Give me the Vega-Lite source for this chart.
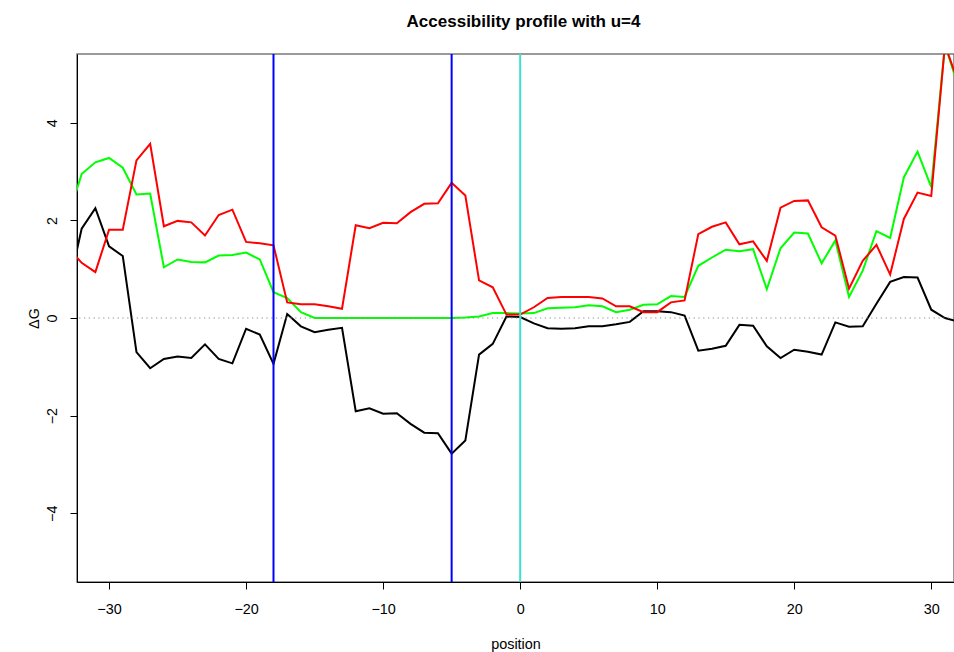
{
  "$schema": "https://vega.github.io/schema/vega-lite/v6.json",
  "width": 877,
  "height": 528,
  "autosize": "none",
  "padding": {"left": 77, "top": 54, "right": 0, "bottom": 70},
  "background": "white",
  "title": {
    "text": "Accessibility profile with u=4",
    "font": "Liberation Sans",
    "fontSize": 17,
    "fontWeight": "bold",
    "color": "black",
    "anchor": "middle",
    "frame": "group",
    "baseline": "alphabetic",
    "offset": 9,
    "dx": 8
  },
  "config": {
    "view": {"stroke": "#7a7a7a", "strokeWidth": 1.5},
    "axis": {
      "grid": false,
      "domainColor": "black",
      "domainWidth": 1,
      "tickColor": "black",
      "tickWidth": 1,
      "tickSize": 7,
      "labelFont": "Liberation Sans",
      "labelFontSize": 14.4,
      "labelColor": "black",
      "titleFont": "Liberation Sans",
      "titleFontSize": 14.4,
      "titleFontWeight": "normal",
      "titleColor": "black"
    }
  },
  "datasets": {
    "profile": [
      {"pos": -33, "series": "black", "dG": 0.57}, {"pos": -33, "series": "red", "dG": 1.45}, {"pos": -33, "series": "green", "dG": 2.05},
      {"pos": -32, "series": "black", "dG": 1.83}, {"pos": -32, "series": "red", "dG": 1.13}, {"pos": -32, "series": "green", "dG": 2.95},
      {"pos": -31, "series": "black", "dG": 2.25}, {"pos": -31, "series": "red", "dG": 0.94}, {"pos": -31, "series": "green", "dG": 3.19},
      {"pos": -30, "series": "black", "dG": 1.47}, {"pos": -30, "series": "red", "dG": 1.81}, {"pos": -30, "series": "green", "dG": 3.28},
      {"pos": -29, "series": "black", "dG": 1.27}, {"pos": -29, "series": "red", "dG": 1.81}, {"pos": -29, "series": "green", "dG": 3.08},
      {"pos": -28, "series": "black", "dG": -0.70}, {"pos": -28, "series": "red", "dG": 3.23}, {"pos": -28, "series": "green", "dG": 2.53},
      {"pos": -27, "series": "black", "dG": -1.03}, {"pos": -27, "series": "red", "dG": 3.57}, {"pos": -27, "series": "green", "dG": 2.55},
      {"pos": -26, "series": "black", "dG": -0.84}, {"pos": -26, "series": "red", "dG": 1.88}, {"pos": -26, "series": "green", "dG": 1.04},
      {"pos": -25, "series": "black", "dG": -0.79}, {"pos": -25, "series": "red", "dG": 1.99}, {"pos": -25, "series": "green", "dG": 1.20},
      {"pos": -24, "series": "black", "dG": -0.82}, {"pos": -24, "series": "red", "dG": 1.96}, {"pos": -24, "series": "green", "dG": 1.15},
      {"pos": -23, "series": "black", "dG": -0.54}, {"pos": -23, "series": "red", "dG": 1.69}, {"pos": -23, "series": "green", "dG": 1.14},
      {"pos": -22, "series": "black", "dG": -0.84}, {"pos": -22, "series": "red", "dG": 2.11}, {"pos": -22, "series": "green", "dG": 1.28},
      {"pos": -21, "series": "black", "dG": -0.93}, {"pos": -21, "series": "red", "dG": 2.22}, {"pos": -21, "series": "green", "dG": 1.29},
      {"pos": -20, "series": "black", "dG": -0.22}, {"pos": -20, "series": "red", "dG": 1.56}, {"pos": -20, "series": "green", "dG": 1.34},
      {"pos": -19, "series": "black", "dG": -0.34}, {"pos": -19, "series": "red", "dG": 1.53}, {"pos": -19, "series": "green", "dG": 1.20},
      {"pos": -18, "series": "black", "dG": -0.94}, {"pos": -18, "series": "red", "dG": 1.49}, {"pos": -18, "series": "green", "dG": 0.53},
      {"pos": -17, "series": "black", "dG": 0.08}, {"pos": -17, "series": "red", "dG": 0.32}, {"pos": -17, "series": "green", "dG": 0.41},
      {"pos": -16, "series": "black", "dG": -0.17}, {"pos": -16, "series": "red", "dG": 0.28}, {"pos": -16, "series": "green", "dG": 0.12},
      {"pos": -15, "series": "black", "dG": -0.29}, {"pos": -15, "series": "red", "dG": 0.28}, {"pos": -15, "series": "green", "dG": 0.0},
      {"pos": -14, "series": "black", "dG": -0.24}, {"pos": -14, "series": "red", "dG": 0.24}, {"pos": -14, "series": "green", "dG": 0.0},
      {"pos": -13, "series": "black", "dG": -0.20}, {"pos": -13, "series": "red", "dG": 0.19}, {"pos": -13, "series": "green", "dG": 0.0},
      {"pos": -12, "series": "black", "dG": -1.91}, {"pos": -12, "series": "red", "dG": 1.90}, {"pos": -12, "series": "green", "dG": 0.0},
      {"pos": -11, "series": "black", "dG": -1.85}, {"pos": -11, "series": "red", "dG": 1.84}, {"pos": -11, "series": "green", "dG": 0.0},
      {"pos": -10, "series": "black", "dG": -1.96}, {"pos": -10, "series": "red", "dG": 1.95}, {"pos": -10, "series": "green", "dG": 0.0},
      {"pos": -9, "series": "black", "dG": -1.95}, {"pos": -9, "series": "red", "dG": 1.94}, {"pos": -9, "series": "green", "dG": 0.0},
      {"pos": -8, "series": "black", "dG": -2.17}, {"pos": -8, "series": "red", "dG": 2.17}, {"pos": -8, "series": "green", "dG": 0.0},
      {"pos": -7, "series": "black", "dG": -2.35}, {"pos": -7, "series": "red", "dG": 2.34}, {"pos": -7, "series": "green", "dG": 0.0},
      {"pos": -6, "series": "black", "dG": -2.36}, {"pos": -6, "series": "red", "dG": 2.35}, {"pos": -6, "series": "green", "dG": 0.0},
      {"pos": -5, "series": "black", "dG": -2.78}, {"pos": -5, "series": "red", "dG": 2.77}, {"pos": -5, "series": "green", "dG": 0.0},
      {"pos": -4, "series": "black", "dG": -2.51}, {"pos": -4, "series": "red", "dG": 2.51}, {"pos": -4, "series": "green", "dG": 0.01},
      {"pos": -3, "series": "black", "dG": -0.75}, {"pos": -3, "series": "red", "dG": 0.77}, {"pos": -3, "series": "green", "dG": 0.03},
      {"pos": -2, "series": "black", "dG": -0.53}, {"pos": -2, "series": "red", "dG": 0.63}, {"pos": -2, "series": "green", "dG": 0.10},
      {"pos": -1, "series": "black", "dG": 0.03}, {"pos": -1, "series": "red", "dG": 0.07}, {"pos": -1, "series": "green", "dG": 0.10},
      {"pos": 0, "series": "black", "dG": 0.02}, {"pos": 0, "series": "red", "dG": 0.07}, {"pos": 0, "series": "green", "dG": 0.09},
      {"pos": 1, "series": "black", "dG": -0.11}, {"pos": 1, "series": "red", "dG": 0.22}, {"pos": 1, "series": "green", "dG": 0.10},
      {"pos": 2, "series": "black", "dG": -0.21}, {"pos": 2, "series": "red", "dG": 0.41}, {"pos": 2, "series": "green", "dG": 0.20},
      {"pos": 3, "series": "black", "dG": -0.22}, {"pos": 3, "series": "red", "dG": 0.43}, {"pos": 3, "series": "green", "dG": 0.21},
      {"pos": 4, "series": "black", "dG": -0.21}, {"pos": 4, "series": "red", "dG": 0.43}, {"pos": 4, "series": "green", "dG": 0.22},
      {"pos": 5, "series": "black", "dG": -0.17}, {"pos": 5, "series": "red", "dG": 0.43}, {"pos": 5, "series": "green", "dG": 0.26},
      {"pos": 6, "series": "black", "dG": -0.17}, {"pos": 6, "series": "red", "dG": 0.40}, {"pos": 6, "series": "green", "dG": 0.24},
      {"pos": 7, "series": "black", "dG": -0.13}, {"pos": 7, "series": "red", "dG": 0.24}, {"pos": 7, "series": "green", "dG": 0.12},
      {"pos": 8, "series": "black", "dG": -0.08}, {"pos": 8, "series": "red", "dG": 0.24}, {"pos": 8, "series": "green", "dG": 0.17},
      {"pos": 9, "series": "black", "dG": 0.14}, {"pos": 9, "series": "red", "dG": 0.12}, {"pos": 9, "series": "green", "dG": 0.27},
      {"pos": 10, "series": "black", "dG": 0.14}, {"pos": 10, "series": "red", "dG": 0.12}, {"pos": 10, "series": "green", "dG": 0.28},
      {"pos": 11, "series": "black", "dG": 0.12}, {"pos": 11, "series": "red", "dG": 0.32}, {"pos": 11, "series": "green", "dG": 0.45},
      {"pos": 12, "series": "black", "dG": 0.05}, {"pos": 12, "series": "red", "dG": 0.36}, {"pos": 12, "series": "green", "dG": 0.43},
      {"pos": 13, "series": "black", "dG": -0.67}, {"pos": 13, "series": "red", "dG": 1.72}, {"pos": 13, "series": "green", "dG": 1.07},
      {"pos": 14, "series": "black", "dG": -0.63}, {"pos": 14, "series": "red", "dG": 1.87}, {"pos": 14, "series": "green", "dG": 1.24},
      {"pos": 15, "series": "black", "dG": -0.57}, {"pos": 15, "series": "red", "dG": 1.96}, {"pos": 15, "series": "green", "dG": 1.40},
      {"pos": 16, "series": "black", "dG": -0.14}, {"pos": 16, "series": "red", "dG": 1.51}, {"pos": 16, "series": "green", "dG": 1.37},
      {"pos": 17, "series": "black", "dG": -0.16}, {"pos": 17, "series": "red", "dG": 1.57}, {"pos": 17, "series": "green", "dG": 1.41},
      {"pos": 18, "series": "black", "dG": -0.58}, {"pos": 18, "series": "red", "dG": 1.17}, {"pos": 18, "series": "green", "dG": 0.59},
      {"pos": 19, "series": "black", "dG": -0.82}, {"pos": 19, "series": "red", "dG": 2.26}, {"pos": 19, "series": "green", "dG": 1.43},
      {"pos": 20, "series": "black", "dG": -0.65}, {"pos": 20, "series": "red", "dG": 2.40}, {"pos": 20, "series": "green", "dG": 1.75},
      {"pos": 21, "series": "black", "dG": -0.69}, {"pos": 21, "series": "red", "dG": 2.41}, {"pos": 21, "series": "green", "dG": 1.73},
      {"pos": 22, "series": "black", "dG": -0.75}, {"pos": 22, "series": "red", "dG": 1.86}, {"pos": 22, "series": "green", "dG": 1.12},
      {"pos": 23, "series": "black", "dG": -0.09}, {"pos": 23, "series": "red", "dG": 1.69}, {"pos": 23, "series": "green", "dG": 1.59},
      {"pos": 24, "series": "black", "dG": -0.18}, {"pos": 24, "series": "red", "dG": 0.60}, {"pos": 24, "series": "green", "dG": 0.43},
      {"pos": 25, "series": "black", "dG": -0.17}, {"pos": 25, "series": "red", "dG": 1.17}, {"pos": 25, "series": "green", "dG": 0.97},
      {"pos": 26, "series": "black", "dG": 0.29}, {"pos": 26, "series": "red", "dG": 1.50}, {"pos": 26, "series": "green", "dG": 1.78},
      {"pos": 27, "series": "black", "dG": 0.74}, {"pos": 27, "series": "red", "dG": 0.89}, {"pos": 27, "series": "green", "dG": 1.64},
      {"pos": 28, "series": "black", "dG": 0.84}, {"pos": 28, "series": "red", "dG": 2.03}, {"pos": 28, "series": "green", "dG": 2.88},
      {"pos": 29, "series": "black", "dG": 0.83}, {"pos": 29, "series": "red", "dG": 2.57}, {"pos": 29, "series": "green", "dG": 3.41},
      {"pos": 30, "series": "black", "dG": 0.17}, {"pos": 30, "series": "red", "dG": 2.50}, {"pos": 30, "series": "green", "dG": 2.68},
      {"pos": 31, "series": "black", "dG": 0.0}, {"pos": 31, "series": "red", "dG": 5.60}, {"pos": 31, "series": "green", "dG": 5.60},
      {"pos": 32, "series": "black", "dG": -0.08}, {"pos": 32, "series": "red", "dG": 4.80}, {"pos": 32, "series": "green", "dG": 4.72}
    ],
    "vlines": [
      {"pos": -18, "kind": "blue"},
      {"pos": -5, "kind": "blue"},
      {"pos": 0, "kind": "cyan"}
    ],
    "hline": [{"dG": 0}]
  },
  "layer": [
    {
      "data": {"name": "profile"},
      "transform": [{"filter": "datum.series === 'black'"}],
      "mark": {"type": "line", "clip": true, "color": "black", "strokeWidth": 2},
      "encoding": {
        "x": {
          "field": "pos", "type": "quantitative",
          "scale": {"domain": [-32.34, 31.66], "nice": false, "zero": false},
          "axis": {"values": [-30, -20, -10, 0, 10, 20, 30], "title": "position", "labelPadding": 13, "labelBaseline": "top", "titlePadding": 22}
        },
        "y": {
          "field": "dG", "type": "quantitative",
          "scale": {"domain": [-5.41, 5.41], "nice": false, "zero": false},
          "axis": {"values": [-4, -2, 0, 2, 4], "title": "ΔG", "labelAngle": -90, "labelAlign": "center", "labelBaseline": "alphabetic", "labelPadding": 13.5, "titlePadding": 3}
        }
      }
    },
    {
      "data": {"name": "profile"},
      "transform": [{"filter": "datum.series === 'green'"}],
      "mark": {"type": "line", "clip": true, "color": "#00FF00", "strokeWidth": 2},
      "encoding": {
        "x": {"field": "pos", "type": "quantitative"},
        "y": {"field": "dG", "type": "quantitative"}
      }
    },
    {
      "data": {"name": "profile"},
      "transform": [{"filter": "datum.series === 'red'"}],
      "mark": {"type": "line", "clip": true, "color": "#FF0000", "strokeWidth": 2},
      "encoding": {
        "x": {"field": "pos", "type": "quantitative"},
        "y": {"field": "dG", "type": "quantitative"}
      }
    },
    {
      "data": {"name": "hline"},
      "mark": {"type": "rule", "color": "#8c8c8c", "strokeWidth": 1, "strokeDash": [1.2, 3.6]},
      "encoding": {"y": {"field": "dG", "type": "quantitative"}}
    },
    {
      "data": {"name": "vlines"},
      "mark": {"type": "rule", "strokeWidth": 2},
      "encoding": {
        "x": {"field": "pos", "type": "quantitative"},
        "color": {
          "field": "kind", "type": "nominal",
          "scale": {"domain": ["blue", "cyan"], "range": ["#0000FF", "#40E0D0"]},
          "legend": null
        }
      }
    }
  ]
}
